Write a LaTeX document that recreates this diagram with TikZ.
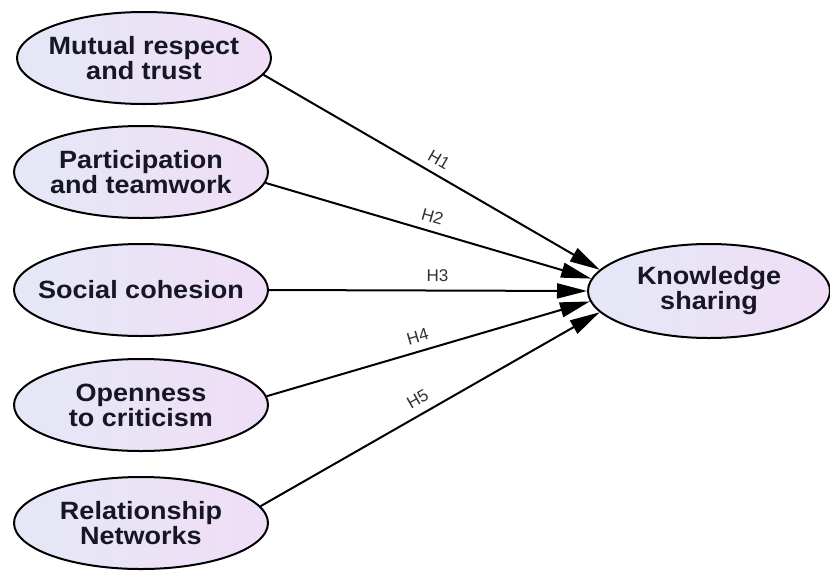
\documentclass[tikz,border=0pt]{standalone}
\usepackage{fontspec}
\setmainfont{Liberation Sans}
\newfontfamily\cfont[FakeStretch=1.08]{Liberation Sans}
\usetikzlibrary{shapes.geometric,arrows.meta}
\definecolor{ctext}{RGB}{22,22,36}
\definecolor{htext}{RGB}{50,50,50}
\tikzset{
  construct/.style={ellipse,draw=black,line width=2pt,minimum width=254pt,minimum height=92pt,inner sep=0pt,
    left color={rgb,255:red,228;green,232;blue,246},right color={rgb,255:red,240;green,222;blue,246}},
  ctext/.style={align=center,text=ctext,inner sep=0pt,font=\cfont\bfseries\fontsize{25}{25}\selectfont},
  path/.style={line width=2pt,-{Triangle[length=30pt,width=15pt]}},
  hyp/.style={font=\fontsize{17}{18}\selectfont,text=htext,sloped,inner sep=1pt,above=7pt}
}
\begin{document}
\begin{tikzpicture}[x=1pt,y=-1pt]
\useasboundingbox[fill=white] (0,0) rectangle (830,571);
\node[construct] (mrt) at (144,58) {};
\node[ctext] (mrt-t) at (mrt) {Mutual respect\\and trust};
\node[construct] (pt) at (141,172) {};
\node[ctext] (pt-t) at (pt) {Participation\\and teamwork};
\node[construct] (sc) at (141,290) {};
\node[ctext] (sc-t) at (sc) {Social cohesion};
\node[construct] (oc) at (141,405) {};
\node[ctext] (oc-t) at (oc) {Openness\\to criticism};
\node[construct] (rn) at (141,523) {};
\node[ctext] (rn-t) at (rn) {Relationship\\Networks};
\node[construct,minimum width=242pt,minimum height=94pt] (ks) at (709,291) {};
\node[ctext] (ks-t) at (ks) {Knowledge\\sharing};
\draw[path] (mrt.-8.5) -- node[hyp,pos=0.50] (h1) {H1} (ks.169);
\draw[path] (pt.-5) -- node[hyp,pos=0.50] (h2) {H2} (ks.174);
\draw[path] (sc.0) -- node[hyp,pos=0.53] (h3) {H3} (ks.180);
\draw[path] (oc.4) -- node[hyp,pos=0.48] (h4) {H4} (ks.185);
\draw[path] (rn.8) -- node[hyp,pos=0.485] (h5) {H5} (ks.191);
\end{tikzpicture}
\end{document}
